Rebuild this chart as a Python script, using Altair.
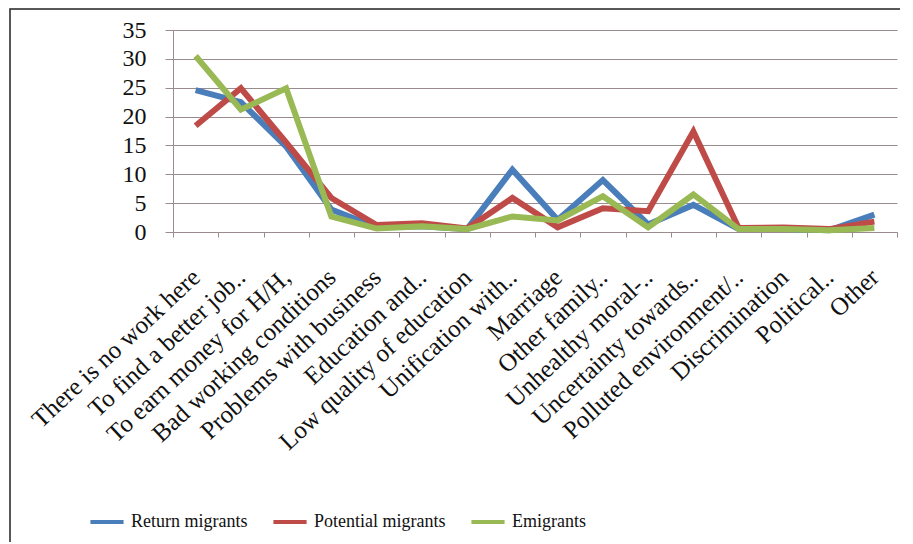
import altair as alt
import pandas as pd

categories = [
    "There is no work here",
    "To find a better job..",
    "To earn money for H/H,",
    "Bad working conditions",
    "Problems with business",
    "Education and..",
    "Low quality of education",
    "Unification with..",
    "Marriage",
    "Other family..",
    "Unhealthy moral-..",
    "Uncertainty towards..",
    "Polluted environment/..",
    "Discrimination",
    "Political..",
    "Other",
]
return_migrants = [24.6, 22.5, 14.8, 3.9, 0.8, 1.0, 0.5, 10.8, 2.1, 9.0, 1.3, 4.7, 0.5, 0.5, 0.3, 3.0]
potential_migrants = [18.4, 24.9, 15.5, 5.9, 1.2, 1.5, 0.6, 5.9, 0.8, 4.1, 3.6, 17.4, 0.7, 0.8, 0.5, 1.8]
emigrants = [30.5, 21.2, 24.9, 2.7, 0.6, 1.0, 0.5, 2.7, 2.0, 6.2, 0.8, 6.5, 0.5, 0.5, 0.3, 0.7]
series_names = ["Return migrants", "Potential migrants", "Emigrants"]
series_colors = ["#4A7EBB", "#BE4B48", "#98B954"]
y_ticks = [0, 5, 10, 15, 20, 25, 30, 35]

rows = []
for name, vals in zip(series_names, [return_migrants, potential_migrants, emigrants]):
    for i, (c, v) in enumerate(zip(categories, vals)):
        rows.append({"reason": c, "series": name, "value": v, "idx": i})
df = pd.DataFrame(rows)

FONT = "Liberation Serif"
AXIS_COL = "#9a8c8c"

lines = alt.Chart(df).mark_line(strokeWidth=6).encode(
    x=alt.X(
        "reason:N",
        sort=categories,
        bandPosition=0.5,
        scale=alt.Scale(type="band", paddingInner=0, paddingOuter=0),
        axis=alt.Axis(
            title=None, labelAngle=-43, labelAlign="right", labelBaseline="middle",
            labelFont=FONT, labelFontSize=25, labelColor="#111", labelPadding=36,
            labelLimit=400, tickBand="extent", tickSize=5, tickColor=AXIS_COL,
            domainColor=AXIS_COL, grid=False,
        ),
    ),
    y=alt.Y(
        "value:Q",
        scale=alt.Scale(domain=[0, 35]),
        axis=alt.Axis(
            title=None, values=y_ticks, labelFont=FONT, labelFontSize=24,
            labelColor="#111", labelPadding=19, tickSize=8, tickColor=AXIS_COL,
            domainColor=AXIS_COL, gridColor=AXIS_COL, gridWidth=1.2,
        ),
    ),
    color=alt.Color(
        "series:N",
        scale=alt.Scale(domain=series_names, range=series_colors),
        legend=alt.Legend(
            title=None, orient="none", legendX=-85, legendY=473,
            direction="horizontal", symbolType="stroke", symbolStrokeWidth=4,
            symbolSize=1100, labelFont=FONT, labelFontSize=18, labelColor="#111",
            columnPadding=17, labelOffset=5,
        ),
    ),
    order=alt.Order("idx:Q"),
)

frame = alt.Chart(pd.DataFrame({"z": [0]})).mark_rect(
    fillOpacity=0, stroke="#222", strokeWidth=1.5
).encode(
    x=alt.value(-163), x2=alt.value(900), y=alt.value(-21), y2=alt.value(700)
)

chart = alt.layer(lines, frame).properties(
    width=724,
    height=202,
    padding={"left": 165, "top": 22, "right": 3, "bottom": 310},
    autosize=alt.AutoSizeParams(type="none"),
).configure_view(strokeWidth=0)

chart.save("out.html", embed_options={"renderer": "svg", "actions": False})
